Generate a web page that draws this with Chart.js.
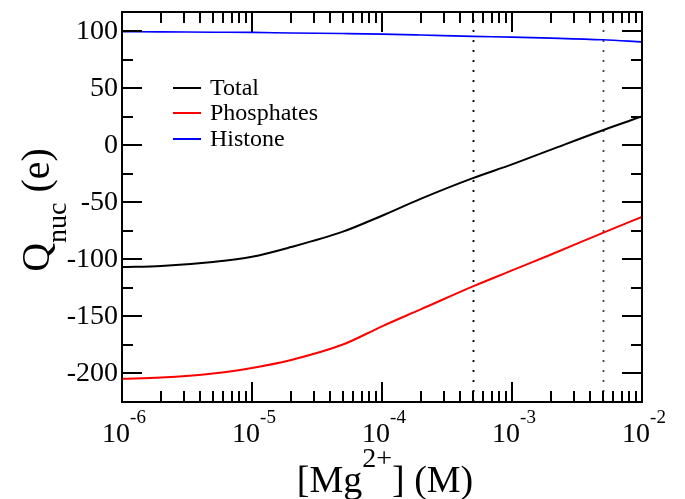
<!DOCTYPE html>
<html>
<head>
<meta charset="utf-8">
<script src="https://cdn.jsdelivr.net/npm/chart.js@4/dist/chart.umd.min.js"></script>
<style>
  html, body { margin: 0; padding: 0; background: #ffffff; }
  #wrap { width: 685px; height: 499px; }
</style>
</head>
<body>
<div id="wrap"><canvas id="c" width="685" height="499"></canvas></div>
<script>
// ---- data ----
const concentrations   = [1e-6, 2e-6, 5e-6, 1e-5, 2e-5, 5e-5, 1e-4, 2e-4, 5e-4, 1e-3, 2e-3, 5e-3, 1e-2];
const totalCharge      = [-107, -106, -102.5, -98, -89.5, -76, -62, -47, -29, -17, -4, 13, 25];
const phosphateCharge  = [-205, -204, -200.5, -195.5, -188.5, -175, -159, -144, -124, -110, -96, -77, -63];
const histoneCharge    = [99.5, 99.3, 99.0, 98.8, 98.3, 97.8, 97.3, 96.5, 95.3, 94.7, 93.8, 92.3, 90.5];
const seriesLabels     = ['Total', 'Phosphates', 'Histone'];
const seriesColors     = ['#000000', '#ff0000', '#0000ff'];
const markerConcentrations = [5e-4, 5e-3];
const yMajorTicks = [-200, -150, -100, -50, 0, 50, 100];
const yMinorTicks = [-175, -125, -75, -25, 25, 75];
const xMajorTicks = [1e-6, 1e-5, 1e-4, 1e-3, 1e-2];
const xTickBases = ['10', '10', '10', '10', '10'];
const xTickExponents = ['-6', '-5', '-4', '-3', '-2'];
const xMinorMultipliers = [2, 3, 4, 5, 6, 7, 8, 9];
const yTitleParts = ['Q', 'nuc', ' (e)'];
const xTitleParts = ['[Mg', '2+', '] (M)'];

const FONT = '"Liberation Serif", "DejaVu Serif", serif';

function toPoints(ys) { return concentrations.map((x, i) => ({ x: x, y: ys[i] })); }

const seriesValues = [totalCharge, phosphateCharge, histoneCharge];
const datasets = seriesValues.map((vals, i) => ({
  label: seriesLabels[i],
  data: toPoints(vals),
  borderColor: seriesColors[i],
  backgroundColor: seriesColors[i],
  borderWidth: i === 2 ? 1.6 : 2,
  pointRadius: 0,
  fill: false,
  cubicInterpolationMode: 'monotone'
}));

const decoPlugin = {
  id: 'deco',
  beforeDatasetsDraw(chart) {
    const ctx = chart.ctx, a = chart.chartArea, xs = chart.scales.x;
    ctx.save();
    ctx.setLineDash([2, 8]);
    ctx.lineWidth = 1.8;
    markerConcentrations.forEach((m, i) => {
      const px = Math.round(xs.getPixelForValue(m)) + 0.5;
      ctx.strokeStyle = i === 0 ? '#000000' : '#444444';
      ctx.beginPath();
      ctx.moveTo(px, a.top + 8);
      ctx.lineTo(px, a.bottom);
      ctx.stroke();
    });
    ctx.restore();
  },
  afterDatasetsDraw(chart) {
    const ctx = chart.ctx, a = chart.chartArea, xs = chart.scales.x, ys = chart.scales.y;
    ctx.save();
    ctx.strokeStyle = '#000';
    ctx.fillStyle = '#000';
    ctx.lineWidth = 2;
    ctx.setLineDash([]);
    const MAJ = 20, MIN = 11;
    const yTick = (v, len) => {
      const py = Math.round(ys.getPixelForValue(v));
      ctx.beginPath();
      ctx.moveTo(a.left, py); ctx.lineTo(a.left + len, py);
      ctx.moveTo(a.right, py); ctx.lineTo(a.right - len, py);
      ctx.stroke();
    };
    yMajorTicks.forEach(v => yTick(v, MAJ));
    yMinorTicks.forEach(v => yTick(v, MIN));
    const xTick = (v, len) => {
      const px = Math.round(xs.getPixelForValue(v));
      ctx.beginPath();
      ctx.moveTo(px, a.bottom); ctx.lineTo(px, a.bottom - len);
      ctx.moveTo(px, a.top); ctx.lineTo(px, a.top + len);
      ctx.stroke();
    };
    xMajorTicks.forEach(v => xTick(v, MAJ));
    xMajorTicks.slice(0, -1).forEach(d => xMinorMultipliers.forEach(m => xTick(d * m, MIN)));
    ctx.lineWidth = 2;
    ctx.strokeRect(a.left, a.top, a.right - a.left, a.bottom - a.top);

    // y tick labels
    ctx.font = '28px ' + FONT;
    ctx.textAlign = 'right';
    ctx.textBaseline = 'middle';
    yMajorTicks.forEach(v => {
      ctx.fillText(String(v), a.left - 4, ys.getPixelForValue(v) + 1);
    });

    // x tick labels with superscript exponent
    ctx.textBaseline = 'alphabetic';
    ctx.textAlign = 'left';
    xMajorTicks.forEach((v, i) => {
      ctx.font = '28px ' + FONT;
      const wb = ctx.measureText(xTickBases[i]).width;
      ctx.font = '19px ' + FONT;
      const we = ctx.measureText(xTickExponents[i]).width;
      const px = xs.getPixelForValue(v);
      const x0 = px - (wb + we) / 2 + 2;
      ctx.font = '28px ' + FONT;
      ctx.fillText(xTickBases[i], x0, a.bottom + 40);
      ctx.font = '19px ' + FONT;
      ctx.fillText(xTickExponents[i], x0 + wb, a.bottom + 21);
    });

    // x title
    ctx.font = '38px ' + FONT;
    const w1 = ctx.measureText(xTitleParts[0]).width;
    const w3 = ctx.measureText(xTitleParts[2]).width;
    ctx.font = '28px ' + FONT;
    const w2 = ctx.measureText(xTitleParts[1]).width;
    let tx = (a.left + a.right) / 2 + 3 - (w1 + w2 + w3) / 2;
    ctx.font = '38px ' + FONT;
    ctx.fillText(xTitleParts[0], tx, 492);
    ctx.font = '28px ' + FONT;
    ctx.fillText(xTitleParts[1], tx + w1, 467);
    ctx.font = '38px ' + FONT;
    ctx.fillText(xTitleParts[2], tx + w1 + w2, 492);

    // y title (rotated)
    ctx.save();
    ctx.translate(49, (a.top + a.bottom) / 2 + 3);
    ctx.rotate(-Math.PI / 2);
    ctx.font = '40px ' + FONT;
    const q1 = ctx.measureText(yTitleParts[0]).width;
    const q3 = ctx.measureText(yTitleParts[2]).width;
    ctx.font = '28px ' + FONT;
    const q2 = ctx.measureText(yTitleParts[1]).width;
    let ty = -(q1 + q2 + q3) / 2;
    ctx.font = '40px ' + FONT;
    ctx.fillText(yTitleParts[0], ty, 0);
    ctx.font = '28px ' + FONT;
    ctx.fillText(yTitleParts[1], ty + q1, 17);
    ctx.font = '40px ' + FONT;
    ctx.fillText(yTitleParts[2], ty + q1 + q2, 0);
    ctx.restore();

    // legend
    const legY = [88, 113, 139];
    ctx.font = '24px ' + FONT;
    ctx.textAlign = 'left';
    ctx.textBaseline = 'middle';
    chart.data.datasets.forEach((ds, i) => {
      ctx.strokeStyle = ds.borderColor;
      ctx.lineWidth = 2;
      ctx.beginPath();
      ctx.moveTo(173, legY[i]); ctx.lineTo(201, legY[i]);
      ctx.stroke();
      ctx.fillStyle = '#000';
      ctx.fillText(ds.label, 210, legY[i] + 1);
    });
    ctx.restore();
  }
};

new Chart(document.getElementById('c'), {
  type: 'line',
  data: { datasets: datasets },
  options: {
    responsive: false,
    animation: false,
    devicePixelRatio: 1,
    layout: { padding: { top: 12, right: 43, left: 0, bottom: 0 } },
    plugins: { legend: { display: false }, tooltip: { enabled: false } },
    scales: {
      x: {
        type: 'logarithmic', min: 1e-6, max: 1e-2,
        grid: { display: false }, border: { display: false },
        ticks: { display: false },
        afterFit(s) { s.height = 97; }
      },
      y: {
        type: 'linear', min: -225.4, max: 116.7,
        grid: { display: false }, border: { display: false },
        ticks: { display: false },
        afterFit(s) { s.width = 122; }
      }
    }
  },
  plugins: [decoPlugin]
});
</script>
</body>
</html>
